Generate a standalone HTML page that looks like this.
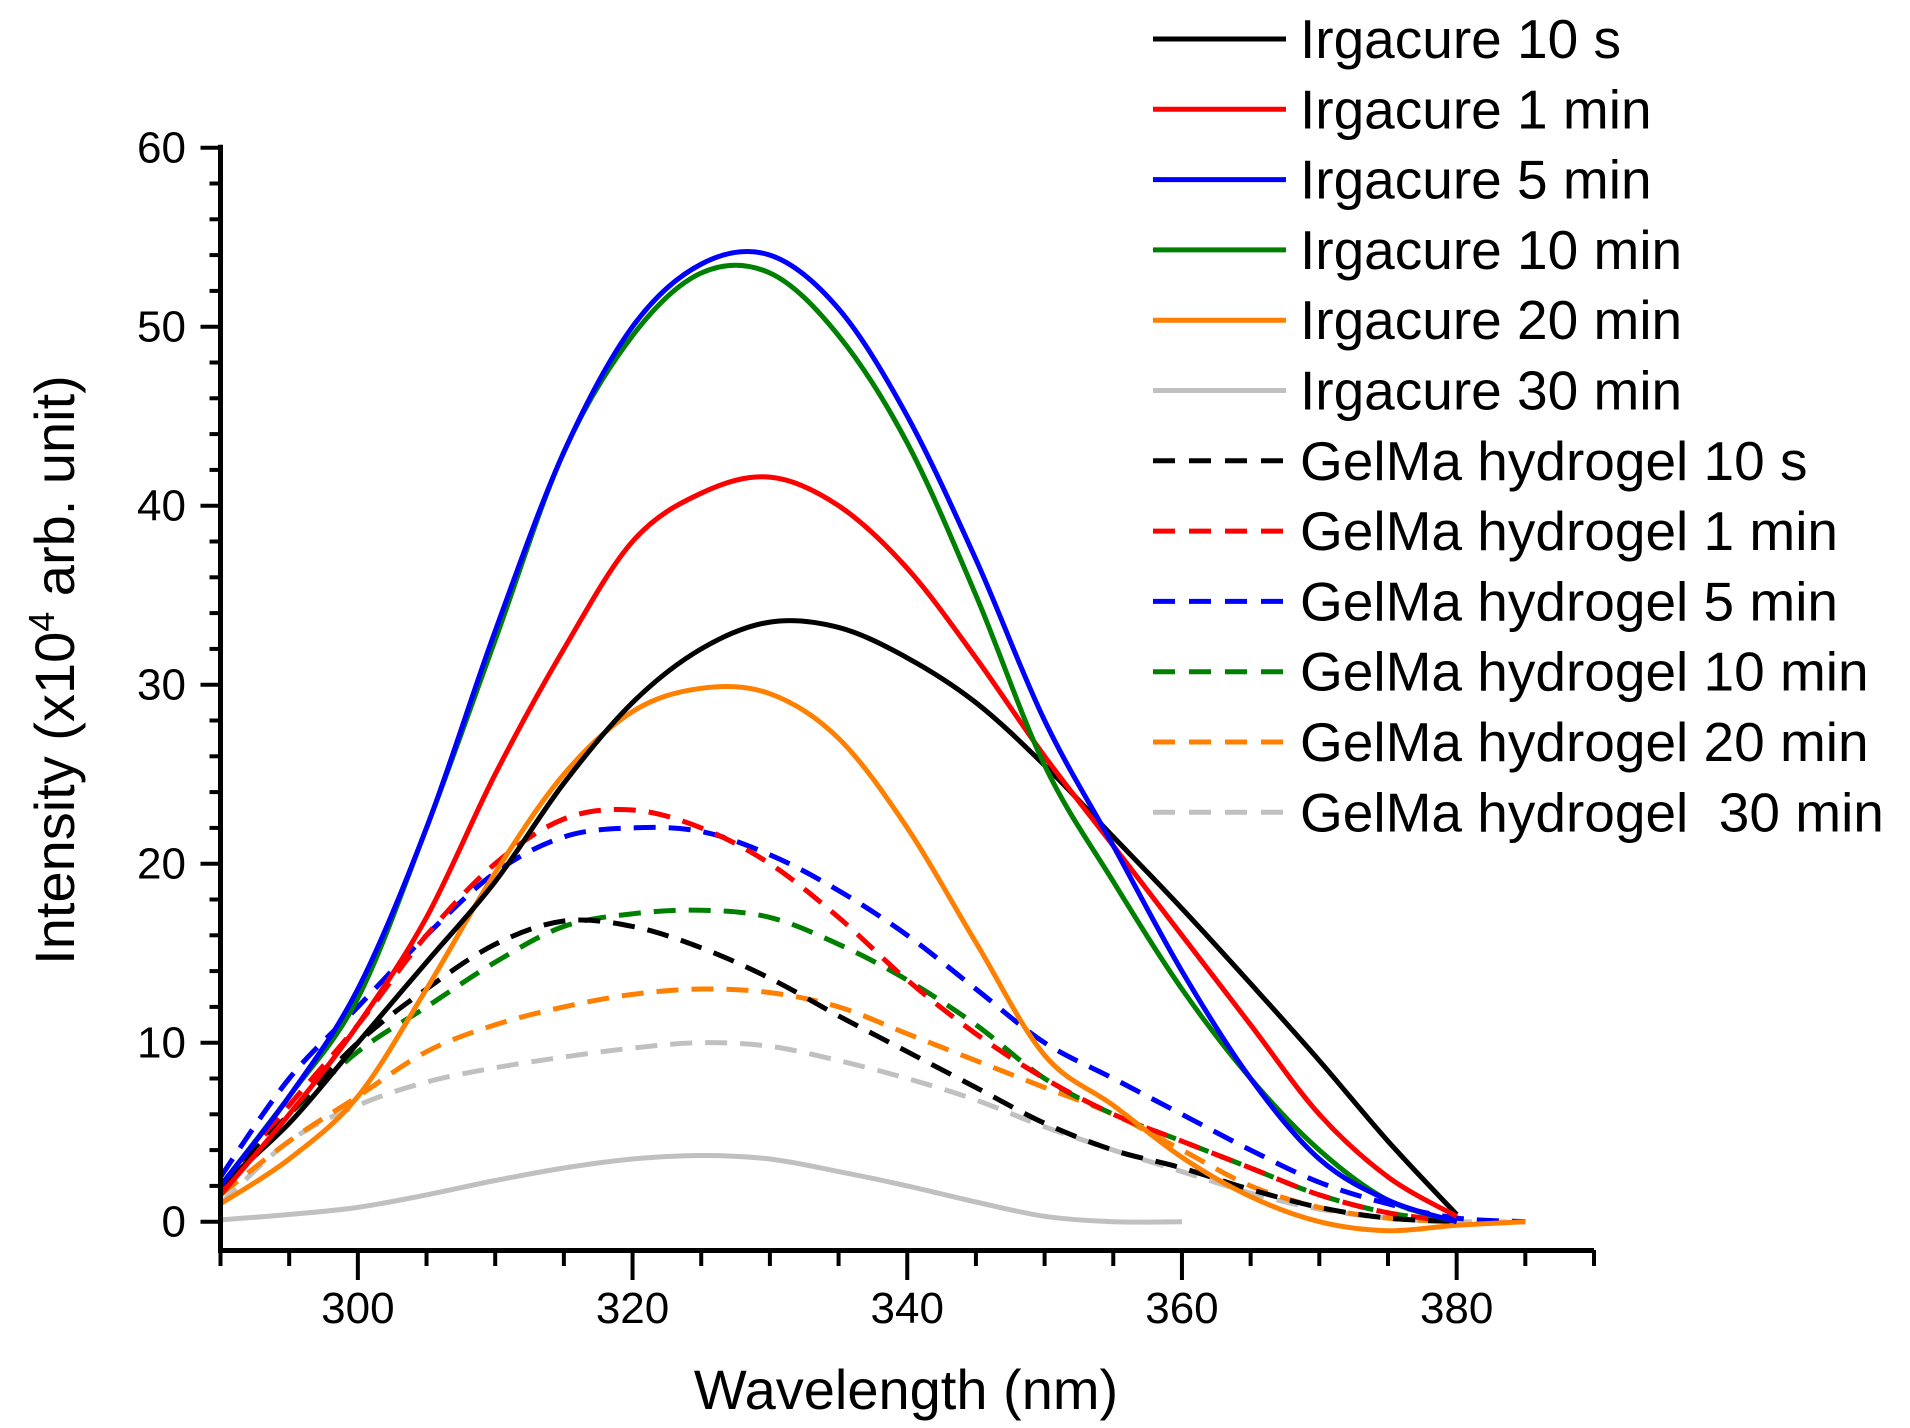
<!DOCTYPE html>
<html><head><meta charset="utf-8">
<style>
html,body{margin:0;padding:0;background:#fff;}
svg{display:block;font-family:"Liberation Sans",sans-serif;}
</style></head>
<body>
<svg id="chart" width="1910" height="1428" viewBox="0 0 1910 1428" xmlns="http://www.w3.org/2000/svg">
<g id="plot"></g>
<g id="axes"></g>
<g id="legend"></g>
</svg>
<script>
const wavelengths = [290,295,300,305,310,315,320,325,330,335,340,345,350,355,360,365,370,375,380,385];
const seriesNames = ["Irgacure 10 s","Irgacure 1 min","Irgacure 5 min","Irgacure 10 min","Irgacure 20 min","Irgacure 30 min","GelMa hydrogel 10 s","GelMa hydrogel 1 min","GelMa hydrogel 5 min","GelMa hydrogel 10 min","GelMa hydrogel 20 min","GelMa hydrogel  30 min"];
const seriesColors = ["#000000","#ff0000","#0000ff","#008000","#ff8000","#c0c0c0","#000000","#ff0000","#0000ff","#008000","#ff8000","#c0c0c0"];
const seriesDashed = [false,false,false,false,false,false,true,true,true,true,true,true];
const irg10s  = [2,5.5,10,14.5,19,24.5,29,32,33.5,33.2,31.5,29,25.5,21.5,17.5,13.3,9,4.5,0.4];
const irg1m   = [1.5,6,11,17,25,32,38,40.7,41.6,40,36.5,31.5,26,21,16,11,6,2.5,0.3];
const irg5m   = [2,7,13,22,33,43,50,53.5,54,51,45,37,28,21,14,8,3.5,1.2,0];
const irg10m  = [2,7,12.5,22,32.5,43,49.5,53,53,49.5,43.5,35,25.5,19,13,8,4,1.2,0];
const irg20m  = [1,3.5,7,13,19.5,25,28.5,29.8,29.5,27,22,15.6,9.3,6.5,3.6,1.4,0,-0.5,-0.2,0];
const irg30m  = [0.1,0.4,0.8,1.5,2.3,3,3.5,3.7,3.5,2.8,2,1.1,0.3,0,0];
const gel10s  = [2,6,10,13,15.5,16.8,16.5,15.3,13.6,11.5,9.5,7.5,5.5,4,3,1.8,0.8,0.2,0];
const gel1m   = [1.8,6.5,11,16,20,22.5,23,22,20,17,13.5,10.5,8,6,4.5,3,1.5,0.5,0];
const gel5m   = [2.5,8,12,16,19.5,21.5,22,21.8,20.5,18.5,16,13,10,8,6,4,2.2,1,0.2,0];
const gel10m  = [2,6,9.5,12,14.5,16.5,17.2,17.4,17,15.5,13.5,11,8,6,4.5,3,1.5,0.5,0];
const gel20m  = [1.5,4.5,7,9.5,11,12,12.7,13,12.8,12,10.5,9,7.5,6,4,2,0.8,0.2,0];
const gel30m  = [1,4.5,6.5,7.8,8.6,9.2,9.7,10,9.8,9,8,6.8,5.3,4,2.8,1.6,0.7,0.2,0,0];
const seriesValues = [irg10s,irg1m,irg5m,irg10m,irg20m,irg30m,gel10s,gel1m,gel5m,gel10m,gel20m,gel30m];
const xTicks = [300,320,340,360,380];
const yTicks = [0,10,20,30,40,50,60];

const NS="http://www.w3.org/2000/svg";
const X0=220.5, X1=1594, xMin=290, xMax=390;
const Y0=1221.7, Y60=147.7;
function xs(v){return X0+(v-xMin)/(xMax-xMin)*(X1-X0);}
function ys(v){return Y0+(Y60-Y0)*v/60;}
function mk(tag,attrs,parent){const e=document.createElementNS(NS,tag);for(const k in attrs)e.setAttribute(k,attrs[k]);parent.appendChild(e);return e;}
function smoothPath(pts){
  let d="M"+pts[0][0].toFixed(1)+","+pts[0][1].toFixed(1);
  for(let i=0;i<pts.length-1;i++){
    const p0=pts[i-1]||pts[i],p1=pts[i],p2=pts[i+1],p3=pts[i+2]||p2;
    const c1=[p1[0]+(p2[0]-p0[0])/6,p1[1]+(p2[1]-p0[1])/6];
    const c2=[p2[0]-(p3[0]-p1[0])/6,p2[1]-(p3[1]-p1[1])/6];
    d+=" C"+c1[0].toFixed(1)+","+c1[1].toFixed(1)+" "+c2[0].toFixed(1)+","+c2[1].toFixed(1)+" "+p2[0].toFixed(1)+","+p2[1].toFixed(1);
  }
  return d;
}
const plot=document.getElementById('plot');
const order=[11,10,9,8,7,6,5,4,0,1,3,2];
order.forEach(i=>{
  const vals=seriesValues[i];
  const pts=vals.map((v,j)=>[xs(wavelengths[j]),ys(v)]);
  const p=mk('path',{d:smoothPath(pts),fill:'none',stroke:seriesColors[i],'stroke-width':5,'stroke-linejoin':'round'},plot);
  if(seriesDashed[i])p.setAttribute('stroke-dasharray','22 13');
  
  
});
const axes=document.getElementById('axes');
let a=mk('line',{x1:X0,y1:Y60-3,x2:X0,y2:1253,stroke:'#000','stroke-width':5},axes);


a=mk('line',{x1:X0-2.5,y1:1250.5,x2:X1,y2:1250.5,stroke:'#000','stroke-width':5},axes);


for(let v=290;v<=390;v+=5){
  const major=(v%20===0);
  mk('line',{x1:xs(v),y1:1250,x2:xs(v),y2:major?1280:1266,stroke:'#000','stroke-width':4},axes);
}
for(let v=0;v<=60;v+=2){
  const major=(v%10===0);
  mk('line',{x1:X0,y1:ys(v),x2:major?X0-20:X0-11,y2:ys(v),stroke:'#000','stroke-width':4},axes);
}
xTicks.forEach(v=>{
  const t=mk('text',{x:xs(v),y:1323,'font-size':44,'text-anchor':'middle'},axes);t.textContent=v;
  
  
});
yTicks.forEach(v=>{
  const t=mk('text',{x:186,y:ys(v)+15,'font-size':44,'text-anchor':'end'},axes);t.textContent=v;
  
  
});
let xt=mk('text',{x:906,y:1409,'font-size':56,'text-anchor':'middle'},axes);
xt.textContent="Wavelength (nm)";


let yt=mk('text',{x:0,y:0,'font-size':56,'text-anchor':'middle',transform:'translate(74,670) rotate(-90)'},axes);
yt.innerHTML='Intensity (x10<tspan dy="-20" font-size="36">4</tspan><tspan dy="20"> arb. unit)</tspan>';


const legend=document.getElementById('legend');
seriesNames.forEach((n,i)=>{
  const y=39+i*70.3;
  const g=mk('g',{},legend);
  
  
  const l=mk('line',{x1:1153,y1:y,x2:1286,y2:y,stroke:seriesColors[i],'stroke-width':5},g);
  if(seriesDashed[i])l.setAttribute('stroke-dasharray','22 14');
  const t=mk('text',{x:1300,y:y+19,'font-size':55},g);t.textContent=n;
  t.setAttribute('style','white-space:pre');
});
</script>
</body></html>
